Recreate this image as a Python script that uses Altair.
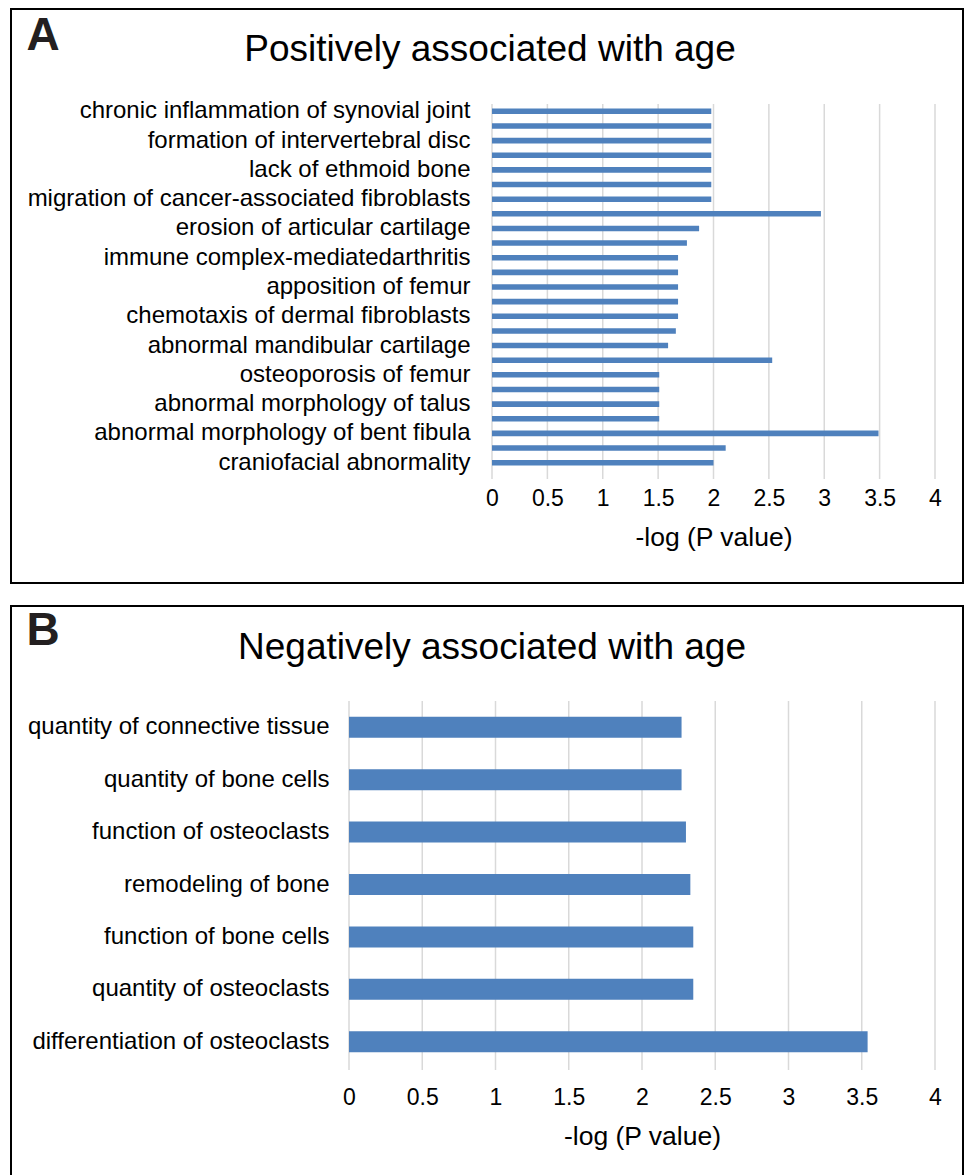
import json
import altair as alt
import pandas as pd

# ---------------- data ----------------
pos_terms = [
    "chronic inflammation of synovial joint", "",
    "formation of intervertebral disc", "",
    "lack of ethmoid bone", "",
    "migration of cancer-associated fibroblasts", "",
    "erosion of articular cartilage", "",
    "immune complex-mediatedarthritis", "",
    "apposition of femur", "",
    "chemotaxis of dermal fibroblasts", "",
    "abnormal mandibular cartilage", "",
    "osteoporosis of femur", "",
    "abnormal morphology of talus", "",
    "abnormal morphology of bent fibula", "",
    "craniofacial abnormality",
]
pos_values = [1.98, 1.98, 1.98, 1.98, 1.98, 1.98, 1.98, 2.97, 1.87, 1.76,
              1.68, 1.68, 1.68, 1.68, 1.68, 1.66, 1.59, 2.53, 1.51, 1.51,
              1.51, 1.51, 3.49, 2.11, 2.00]

neg_terms = [
    "quantity of connective tissue",
    "quantity of bone cells",
    "function of osteoclasts",
    "remodeling of bone",
    "function of bone cells",
    "quantity of osteoclasts",
    "differentiation of osteoclasts",
]
neg_values = [2.27, 2.27, 2.30, 2.33, 2.35, 2.35, 3.54]

x_ticks = [0, 0.5, 1, 1.5, 2, 2.5, 3, 3.5, 4]

FONT = "Liberation Sans"
BLUE = "#4F81BD"
GRID = "#D9D9D9"
W, H = 952, 574


def panel(terms, values, letter, title, x_range, y_range, band_pad,
          ylab_pad, xlab_pad, xtitle_pad, letter_y, title_x, title_y, grid_y):
    df = pd.DataFrame({"rank": list(range(len(terms))), "term": terms, "value": values})
    label_expr = json.dumps(terms) + "[datum.value]"
    xscale = alt.Scale(domain=[0, 4], range=x_range, nice=False)

    grid = alt.Chart(pd.DataFrame({"value": x_ticks})).mark_rule(
        color=GRID, strokeWidth=1.5
    ).encode(
        x=alt.X("value:Q", scale=xscale),
        y=alt.value(grid_y[0]),
        y2=alt.value(grid_y[1]),
    )

    bars = alt.Chart(df).mark_bar(color=BLUE).encode(
        x=alt.X(
            "value:Q",
            scale=xscale,
            axis=alt.Axis(
                values=x_ticks, format=".1~f", grid=False, domain=False,
                ticks=False, labelFlush=False,
                labelFontSize=23, labelPadding=xlab_pad, labelColor="black",
                title="-log (P value)", titleFontSize=26.5, titleFontWeight="normal",
                titleColor="black", titlePadding=xtitle_pad,
                offset=-(H - y_range[1]),
            ),
        ),
        y=alt.Y(
            "rank:O",
            sort="ascending",
            scale=alt.Scale(range=y_range, paddingInner=band_pad, paddingOuter=band_pad / 2),
            axis=alt.Axis(
                labelExpr=label_expr, domain=False, ticks=False, grid=False,
                labelPadding=ylab_pad, labelFontSize=24, labelColor="black",
                labelLimit=0, title=None, offset=-x_range[0],
            ),
        ),
        tooltip=["term:N", "value:Q"],
    )
    letter_txt = alt.Chart(pd.DataFrame({"t": [letter]})).mark_text(
        font=FONT, fontSize=46, fontWeight="bold", align="center",
        baseline="middle", color="#231F20",
    ).encode(x=alt.value(32), y=alt.value(letter_y), text="t:N")
    title_txt = alt.Chart(pd.DataFrame({"t": [title]})).mark_text(
        font=FONT, fontSize=37, align="center", baseline="middle", color="black",
    ).encode(x=alt.value(title_x), y=alt.value(title_y), text="t:N")
    return alt.layer(grid, bars, letter_txt, title_txt).properties(width=W, height=H)


panel_a = panel(pos_terms, pos_values, "A", "Positively associated with age",
                x_range=[481, 924], y_range=[95, 461], band_pad=0.62,
                ylab_pad=22, xlab_pad=17, xtitle_pad=14,
                letter_y=27, title_x=479, title_y=41, grid_y=[95, 470])
panel_b = panel(neg_terms, neg_values, "B", "Negatively associated with age",
                x_range=[338, 924], y_range=[95, 462], band_pad=0.6,
                ylab_pad=20, xlab_pad=18, xtitle_pad=14,
                letter_y=25, title_x=481, title_y=42, grid_y=[95, 464])

chart = alt.vconcat(panel_a, panel_b, spacing=21).configure(
    font=FONT,
    padding={"left": 2, "top": 0, "right": 0, "bottom": 0},
).configure_view(stroke="black", strokeWidth=2)

chart.save("out.html", embed_options={"renderer": "svg", "actions": False})
